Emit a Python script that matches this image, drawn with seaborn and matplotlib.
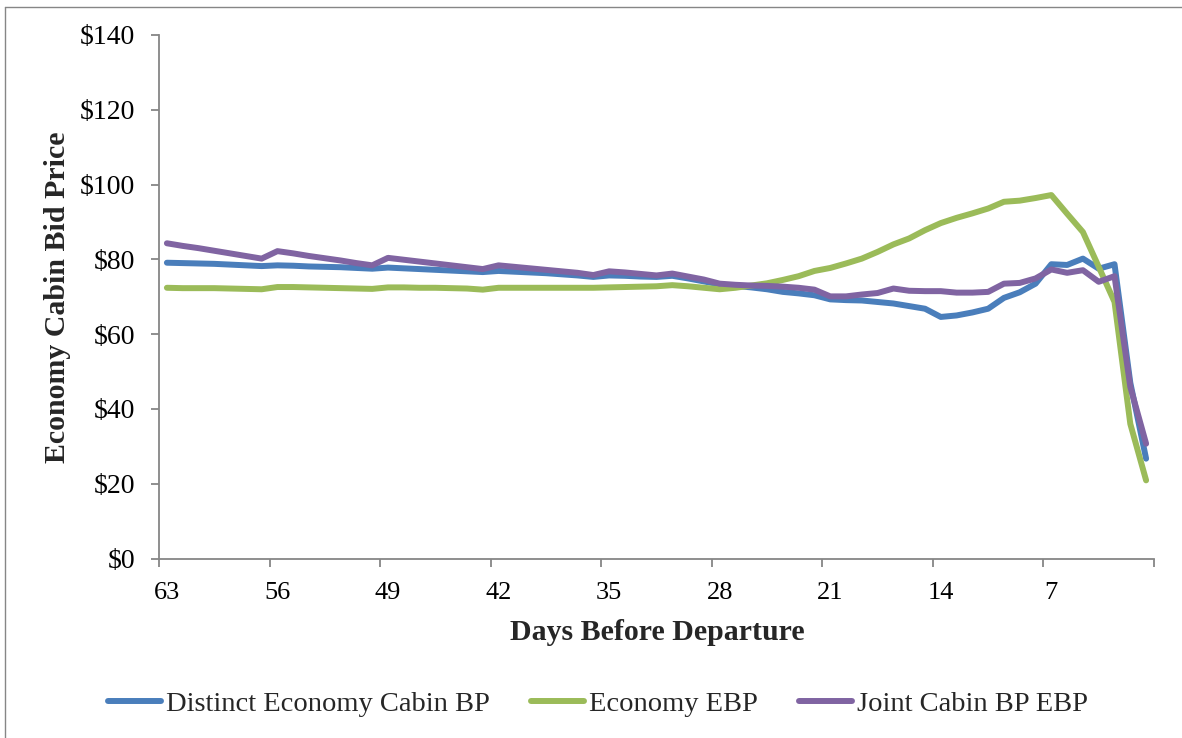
import numpy as np
import pandas as pd
import matplotlib
matplotlib.use("Agg")
import matplotlib.pyplot as plt
import seaborn as sns
from matplotlib.lines import Line2D

# Days before departure (63 down to 1)
days = list(range(63, 0, -1))

distinct_economy_bp = [
    79.1, 79.0, 78.9, 78.8, 78.6, 78.4, 78.2,
    78.4, 78.3, 78.1, 78.0, 77.9, 77.7, 77.5,
    77.8, 77.6, 77.4, 77.2, 77.0, 76.8, 76.6,
    76.9, 76.7, 76.5, 76.3, 76.0, 75.7, 75.3,
    75.7, 75.6, 75.4, 75.3, 75.6, 74.9, 74.1,
    73.3, 72.9, 72.5, 72.0, 71.3, 70.9, 70.4,
    69.3, 69.1, 69.0, 68.6, 68.2, 67.5, 66.8,
    64.6, 65.0, 65.8, 66.8, 69.7, 71.2, 73.5,
    78.7, 78.5, 80.2, 77.5, 78.7, 47.0, 26.7,
]

economy_ebp = [
    72.4, 72.3, 72.3, 72.3, 72.2, 72.1, 72.0,
    72.6, 72.6, 72.5, 72.4, 72.3, 72.2, 72.1,
    72.5, 72.5, 72.4, 72.4, 72.3, 72.2, 71.9,
    72.4, 72.4, 72.4, 72.4, 72.4, 72.4, 72.4,
    72.5, 72.6, 72.7, 72.8, 73.1, 72.8, 72.4,
    72.0, 72.4, 73.0, 73.6, 74.5, 75.5, 76.9,
    77.7, 78.9, 80.2, 82.0, 84.0, 85.6, 87.8,
    89.7, 91.1, 92.3, 93.6, 95.4, 95.7, 96.4,
    97.2, 92.2, 87.3, 78.0, 68.6, 36.0, 20.9,
]

joint_cabin_bp_ebp = [
    84.3, 83.6, 83.0, 82.3, 81.6, 80.9, 80.2,
    82.2, 81.6, 80.9, 80.3, 79.7, 79.0, 78.4,
    80.4, 79.9, 79.4, 78.9, 78.4, 77.9, 77.4,
    78.4, 78.0, 77.6, 77.2, 76.8, 76.4, 75.8,
    76.8, 76.5, 76.1, 75.7, 76.2, 75.4, 74.6,
    73.5, 73.2, 73.0, 72.9, 72.7, 72.4, 71.9,
    70.1, 70.1, 70.6, 71.0, 72.2, 71.6, 71.5,
    71.5, 71.1, 71.1, 71.3, 73.5, 73.7, 74.9,
    77.3, 76.4, 77.1, 74.0, 75.5, 45.9, 30.7,
]

series_names = ["Distinct Economy Cabin BP", "Economy EBP", "Joint Cabin BP EBP"]
series_colors = ["#4A7EBB", "#9BBB59", "#8064A2"]
x_tick_labels = ["63", "56", "49", "42", "35", "28", "21", "14", "7"]
y_ticks = [0, 20, 40, 60, 80, 100, 120, 140]

df = pd.concat([
    pd.DataFrame({"day": days, "price": vals, "series": name})
    for name, vals in zip(series_names, [distinct_economy_bp, economy_ebp, joint_cabin_bp_ebp])
])

sns.set_theme(style="white")
serif = ["Liberation Serif", "DejaVu Serif"]
plt.rcParams["font.family"] = serif

W, H = 1182, 738
fig = plt.figure(figsize=(W / 100, H / 100), dpi=100)
ax = fig.add_axes([159 / W, 1 - 558.5 / H, 995 / W, 523.5 / H])

sns.lineplot(data=df, x="day", y="price", hue="series", hue_order=series_names,
             palette=series_colors, linewidth=4.3, ax=ax, legend=False, sort=False)
for ln in ax.get_lines():
    ln.set_solid_joinstyle("round")
    ln.set_solid_capstyle("round")

# Category-style axis: days run right-to-left, ticks on category boundaries
ax.set_xlim(63.5, 0.5)
ax.set_ylim(0, 140)
ax.set_xticks([63.5 - 7 * k for k in range(10)])
ax.set_xticklabels([""] * 10)
ax.set_xticks([int(s) for s in x_tick_labels], minor=True)
ax.set_xticklabels(x_tick_labels, minor=True)
ax.tick_params(axis="x", which="major", direction="out", length=6, width=1.3,
               color="#868686", bottom=True)
ax.tick_params(axis="x", which="minor", length=0, pad=17, labelsize=19, labelcolor="black")

ax.set_yticks(y_ticks)
ax.set_yticklabels([f"${v}" for v in y_ticks])
ax.tick_params(axis="y", direction="out", length=6, width=1.3, color="#868686",
               left=True, labelsize=20, pad=11, labelcolor="black")

for side in ["top", "right"]:
    ax.spines[side].set_visible(False)
for side in ["left", "bottom"]:
    ax.spines[side].set_color("#868686")
    ax.spines[side].set_linewidth(1.3)

ax.set_xlabel("Days Before Departure", fontsize=21.5, fontweight="bold")
ax.xaxis.set_label_coords((657 - 159) / 995, (558.5 - 632) / 523.5)
ax.xaxis.label.set_va("center")
ax.set_ylabel("Economy Cabin Bid Price", fontsize=21.5, fontweight="bold")
ax.yaxis.set_label_coords((58 - 159) / 995, (558.5 - 297) / 523.5)
ax.yaxis.label.set_va("center")

handles = [Line2D([0], [0], color=c, linewidth=4.3, solid_capstyle="round") for c in series_colors]
fig.legend(handles, series_names, loc="center", bbox_to_anchor=(598 / W, 1 - 704 / H),
           ncol=3, frameon=False, fontsize=20.5, handlelength=1.87, handletextpad=0.18,
           columnspacing=1.44)

# Chart area border
fig.add_artist(Line2D([5 / W, 5 / W], [0, 1 - 7 / H], transform=fig.transFigure,
                      color="#868686", linewidth=1.0))
fig.add_artist(Line2D([5 / W, 1], [1 - 7 / H, 1 - 7 / H], transform=fig.transFigure,
                      color="#868686", linewidth=1.0))

fig.savefig("out.png", dpi=100)
